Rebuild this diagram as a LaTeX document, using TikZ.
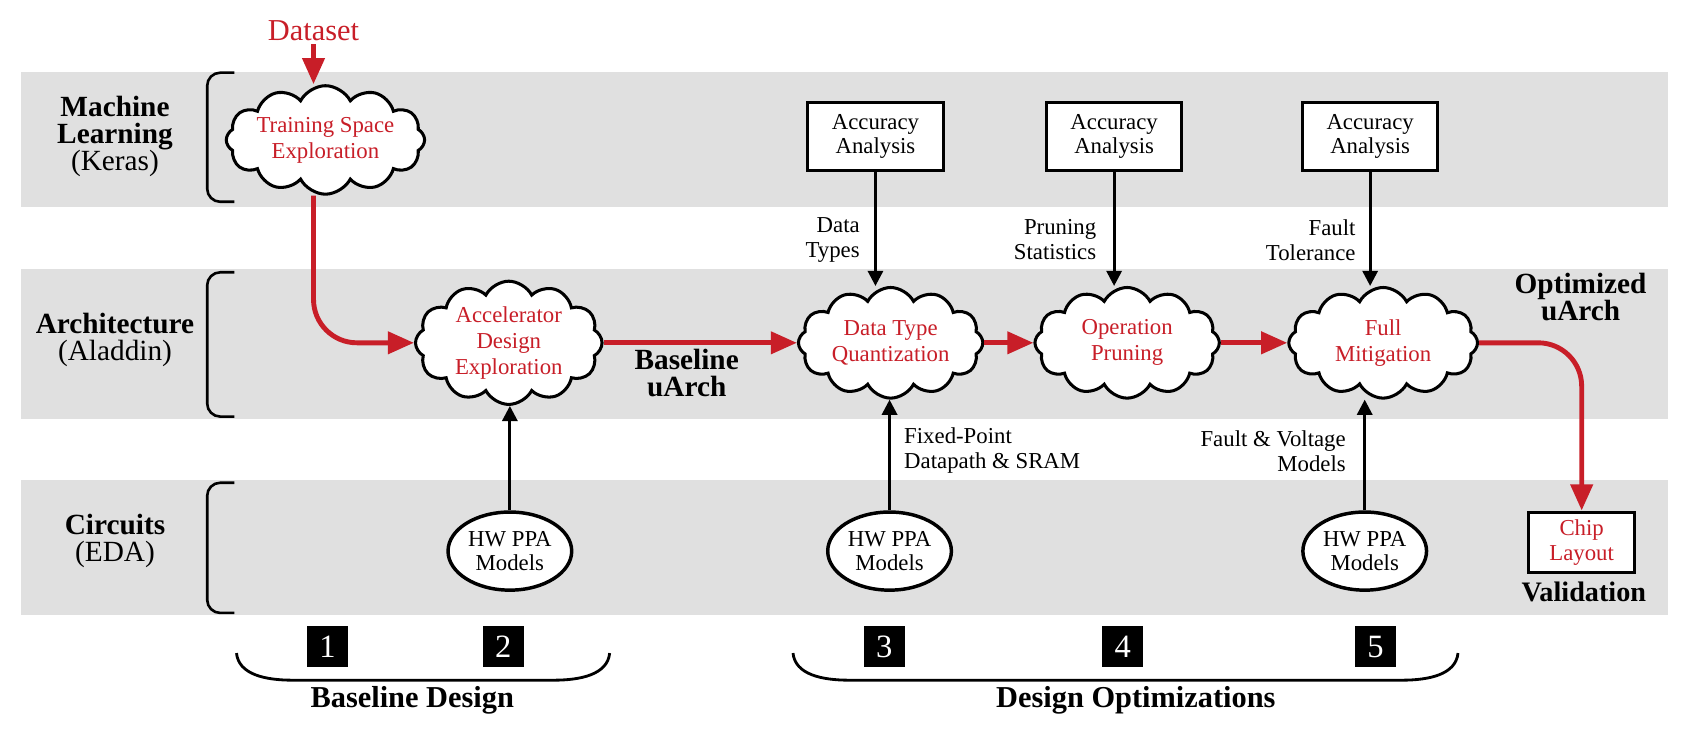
\documentclass[tikz,border=0pt]{standalone}
\usepackage{fontspec}
\setmainfont{Liberation Serif}
\usetikzlibrary{shapes.symbols,shapes.geometric,arrows.meta}
\definecolor{myred}{RGB}{200,30,40}
\definecolor{bandgray}{RGB}{224,224,224}
\tikzset{
  lbl/.style={font=\fontsize{27}{25}\selectfont, align=center},
  boldlbl/.style={font=\fontsize{27}{25}\selectfont\bfseries, align=center},
  cloudnode/.style={cloud, cloud puffs=12, cloud puff arc=125, cloud ignores aspect,
     draw=black, line width=2.8pt, fill=white, text=myred, inner sep=0pt,
     font=\fontsize{21}{24}\selectfont, align=center, minimum width=172pt, minimum height=102pt},
  accbox/.style={draw, line width=2.8pt, fill=white, minimum width=125pt, minimum height=63pt,
     inner sep=0pt, font=\fontsize{21}{22}\selectfont, align=center},
  hwnode/.style={ellipse, draw, line width=3.2pt, fill=white, minimum width=114pt,
     minimum height=72pt, inner sep=0pt, font=\fontsize{21}{22}\selectfont, align=center},
  numbox/.style={fill=black, text=white, minimum width=38pt, minimum height=38pt,
     inner sep=0pt, font=\fontsize{30}{30}\selectfont},
  redarr/.style={draw=myred, line width=4.5pt, -{Triangle[length=24pt,width=20pt]}},
  blkarr/.style={line width=2.6pt, -{Triangle[length=14pt,width=14pt]}},
  brack/.style={line width=2.4pt, rounded corners=12pt},
  brace/.style={line width=2.6pt},
  side/.style={font=\fontsize{21}{23}\selectfont},
}
\begin{document}
\begin{tikzpicture}[x=1pt,y=-1pt]
\useasboundingbox (0,0) rectangle (1568,681);
% bands
\fill[bandgray] (19,66) rectangle (1538,191);
\fill[bandgray] (19,248) rectangle (1538,386);
\fill[bandgray] (19,442) rectangle (1538,567);
% brackets
\draw[brack] (216,67) -- (191,67) -- (191,186) -- (216,186);
\draw[brack] (216,251) -- (191,251) -- (191,384) -- (216,384);
\draw[brack] (216,445) -- (191,445) -- (191,565) -- (216,565);
% row labels
\node[lbl] (ml) at (106,126) {{\bfseries Machine}\\{\bfseries Learning}\\(Keras)};
\node[lbl] (ar) at (106,313) {{\bfseries Architecture}\\(Aladdin)};
\node[lbl] (ci) at (106,499) {{\bfseries Circuits}\\(EDA)};
% dataset and clouds
\node[font=\fontsize{28}{28}\selectfont, text=myred] (ds) at (289,28) {Dataset};
\node[cloudnode, minimum height=100pt] (train) at (300,129) {Training Space\\Exploration};
\node[cloudnode] (accel) at (469,316) {Accelerator\\Design\\Exploration};
\node[cloudnode, minimum width=170pt] (dtq) at (821,316) {Data Type\\Quantization};
\node[cloudnode, minimum width=170pt] (op) at (1039,316) {Operation\\Pruning};
\node[cloudnode, minimum width=174pt] (fm) at (1275,316) {Full\\Mitigation};
% accuracy boxes
\node[accbox] (acc1) at (807,126) {Accuracy\\Analysis};
\node[accbox] (acc2) at (1027,126) {Accuracy\\Analysis};
\node[accbox] (acc3) at (1263,126) {Accuracy\\Analysis};
% HW PPA
\node[hwnode] (hw1) at (470,508) {HW PPA\\Models};
\node[hwnode] (hw2) at (820,508) {HW PPA\\Models};
\node[hwnode] (hw3) at (1258,508) {HW PPA\\Models};
% chip
\node[draw, line width=2.8pt, fill=white, minimum width=98pt, minimum height=56pt, inner sep=0pt,
  text=myred, font=\fontsize{21}{23}\selectfont, align=center] (chip) at (1458,500) {Chip\\Layout};
\node[boldlbl, font=\fontsize{26}{26}\selectfont\bfseries] (val) at (1460,546) {Validation};
% other labels
\node[boldlbl] (bua) at (633,344) {Baseline\\uArch};
\node[boldlbl] (oua) at (1457,274) {Optimized\\uArch};
\node[side, anchor=east, align=right] (l1) at (796,221) {Data\\Types};
\node[side, anchor=east, align=right] (l2) at (1014,221) {Pruning\\Statistics};
\node[side, anchor=east, align=right] (l3) at (1253,221) {Fault\\Tolerance};
\node[side, anchor=west, align=left] (l4) at (830,415) {Fixed-Point\\Datapath \& SRAM};
\node[side, anchor=east, align=right] (l5) at (1244,416) {Fault \& Voltage\\Models};
% red flow
\draw[redarr] (ds.south) -- (ds.south |- train.north);
\draw[redarr, rounded corners=40pt] (ds.south |- train.south) |- (accel.west);
\draw[redarr] (accel) -- (dtq);
\draw[redarr] (dtq) -- (op);
\draw[redarr] (op) -- (fm);
\draw[redarr, rounded corners=40pt] (fm.east) -| (chip.north);
% black arrows
\draw[blkarr] (hw1.north) -- (hw1.north |- accel.south);
\draw[blkarr] (acc1.south) -- (acc1.south |- dtq.north);
\draw[blkarr] (hw2.north) -- (hw2.north |- dtq.south);
\draw[blkarr] (acc2.south) -- (acc2.south |- op.north);
\draw[blkarr] (acc3.south) -- (acc3.south |- fm.north);
\draw[blkarr] (hw3.north) -- (hw3.north |- fm.south);
% step numbers
\node[numbox] (n1) at (302,596) {1};
\node[numbox] (n2) at (464,596) {2};
\node[numbox] (n3) at (815,596) {3};
\node[numbox] (n4) at (1035,596) {4};
\node[numbox] (n5) at (1268,596) {5};
% braces
\draw[brace] (218,602) .. controls (220,622) and (245,627) .. (270,627) -- (510,627) .. controls (535,627) and (560,622) .. (562,602);
\draw[brace] (731,602) .. controls (733,622) and (758,627) .. (783,627) -- (1292,627) .. controls (1317,627) and (1342,622) .. (1344,602);
\node[boldlbl, font=\fontsize{28}{28}\selectfont\bfseries] (bd) at (380,646) {Baseline Design};
\node[boldlbl, font=\fontsize{28}{28}\selectfont\bfseries] (dopt) at (1047,646) {Design Optimizations};
\end{tikzpicture}
\end{document}
